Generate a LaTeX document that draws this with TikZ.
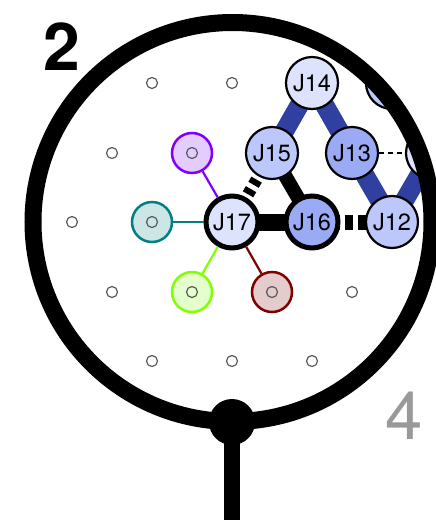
\documentclass[tikz,border=0pt]{standalone}
\usepackage{fontspec}
\setmainfont{TeX Gyre Heros}
\usepackage{tikz}
\usetikzlibrary{positioning, backgrounds}
\definecolor{isisatu}{RGB}{221,227,253}
\definecolor{isidua}{RGB}{188,200,251}
\definecolor{isitiga}{RGB}{154,170,245}
\definecolor{biru}{RGB}{48,64,160}
\definecolor{ungu}{RGB}{128,0,255}
\definecolor{ungumuda}{RGB}{229,204,255}
\definecolor{toska}{RGB}{0,128,128}
\definecolor{toskamuda}{RGB}{204,229,229}
\definecolor{hijau}{RGB}{128,255,0}
\definecolor{hijaumuda}{RGB}{229,255,204}
\definecolor{merah}{RGB}{128,0,0}
\definecolor{merahmuda}{RGB}{229,204,204}
\tikzstyle{sendi} = [circle, draw, line width=2.2pt, minimum size=52pt, inner sep=0pt, font=\fontsize{23.5}{24}\selectfont]
\tikzstyle{sendiutama} = [sendi, line width=5pt]
\tikzstyle{daun} = [circle, draw, line width=2.5pt, minimum size=40pt, inner sep=0pt]
\tikzstyle{titik} = [circle, draw=black!65, line width=1.2pt, minimum size=11pt, inner sep=0pt]
\tikzstyle{rantai} = [biru, line width=19pt, line join=round]

\begin{document}
\begin{tikzpicture}[x=1pt, y=-1pt, node distance=80pt]
	\useasboundingbox (0,0) rectangle (436,520);
	\coordinate (pusat) at (232.5,222);

	\begin{scope}
		\clip (pusat) circle (199.5);
		% Titik kisi kosong
		\foreach \x/\y [count=\i] in {152/83, 232/83, 112/153, 72/222, 112/292, 152/361, 232/361, 312/361, 352/292}
			\node [titik] (titik\i) at (\x,\y) {};

		% Sendi
		\node [sendiutama, fill=isisatu] (J17) at (232,222) {J17};
		\node [sendiutama, fill=isitiga, right of=J17] (J16) {J16};
		\node [sendi, fill=isidua, right of=J16] (J12) {J12};
		\node [sendi, fill=isidua] (J15) at (272,153) {J15};
		\node [sendi, fill=isitiga, right of=J15] (J13) {J13};
		\node [sendi, fill=isisatu, right of=J13] (ujungkanan) {};
		\node [sendi, fill=isisatu] (J14) at (312,83) {J14};
		\node [sendi, fill=isidua, right of=J14] (ujungatas) {};

		% Daun berwarna
		\node [daun, draw=ungu, fill=ungumuda] (ungu) at (192,153) {};
		\node [daun, draw=toska, fill=toskamuda, left of=J17] (toska) {};
		\node [daun, draw=hijau, fill=hijaumuda] (hijau) at (192,292) {};
		\node [daun, draw=merah, fill=merahmuda, right of=hijau] (merah) {};
		\foreach \d in {ungu, toska, hijau, merah}
			\node [titik] (titik-\d) at (\d) {};

		\draw [ungu, line width=2.2pt] (J17) -- (ungu);
		\draw [toska, line width=2.2pt] (J17) -- (toska);
		\draw [hijau, line width=2.2pt] (J17) -- (hijau);
		\draw [merah, line width=2.2pt] (J17) -- (merah);

		% Ikatan di belakang sendi
		\begin{scope}[on background layer]
			\clip (pusat) circle (199.5);
			\draw [rantai] (J15.center) -- (J14.center) -- (J13.center) -- (J12.center) -- (ujungkanan.center);
			\draw [line width=17pt] (J17.center) -- (J16.center);
			\draw [line width=14pt] (J15.center) -- (J16.center);
			\draw [line width=12pt, dash pattern=on 6pt off 5pt, dash phase=1pt] (J17.center) -- (J15.center);
			\draw [line width=15pt, dash pattern=on 8pt off 5pt, dash phase=6pt] (J16.center) -- (J12.center);
			\draw [line width=1.8pt, dash pattern=on 5pt off 4pt] (J13.center) -- (ujungkanan.center);
		\end{scope}
	\end{scope}

	% Cincin dan gagang
	\draw [line width=17pt] (pusat) circle (199.5);
	\fill (232,422) circle (23);
	\draw [line width=16pt] (232,430) -- (232,520);

	\node [inner sep=0pt, font=\fontsize{66}{66}\selectfont\bfseries] (nomor) at (61.5,46.5) {2};
	\node [inner sep=0pt, text=black!40, font=\fontsize{67}{67}\selectfont] (skala) at (404,416) {4};
\end{tikzpicture}
\end{document}
